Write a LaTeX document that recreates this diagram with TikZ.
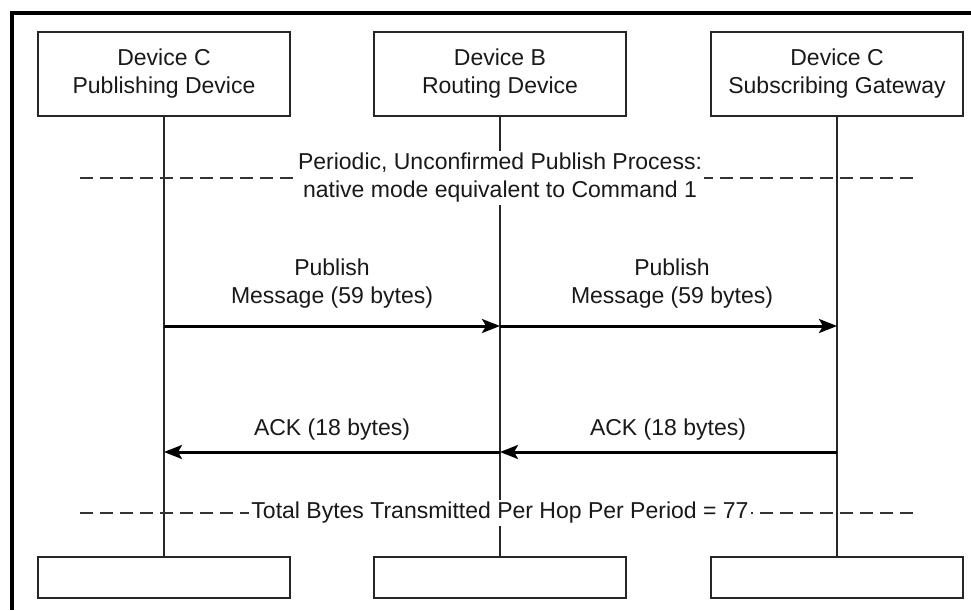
\documentclass[tikz,border=0pt]{standalone}
\usepackage{fontspec}
\setmainfont{Liberation Sans}
\usetikzlibrary{arrows.meta}
\begin{document}
\begin{tikzpicture}[x=1pt,y=-1pt,
  every node/.style={font=\fontsize{23}{28}\selectfont, text=black!90},
  devbox/.style={draw=black!85, line width=1.3pt, minimum width=252pt, minimum height=84pt, align=center, inner sep=0pt},
  endbox/.style={draw=black!85, line width=1.3pt, minimum width=252pt, minimum height=41pt, inner sep=0pt},
  life/.style={draw=black!85, line width=1.3pt},
  msg/.style={line width=3pt, -{Stealth[length=18pt,width=14pt,inset=4pt]}},
  sep/.style={draw=black!80, line width=1.2pt, dash pattern=on 13pt off 7pt},
  sepnote/.style={fill=white, align=center, inner sep=2pt},
  lbl/.style={align=center, inner sep=0pt}
]
\useasboundingbox (0,0) rectangle (971,610);
\fill[white] (0,0) rectangle (971,610);
% frame
\draw[line width=4pt] (12,610) -- (12,13) -- (971,13);

% top boxes
\node[devbox] (tA) at (164,74) {Device C\\Publishing Device};
\node[devbox] (tB) at (500,74) {Device B\\Routing Device};
\node[devbox] (tC) at (837,74) {Device C\\Subscribing Gateway};
% bottom boxes
\node[endbox] (bA) at (164,577.5) {};
\node[endbox] (bB) at (500,577.5) {};
\node[endbox] (bC) at (837,577.5) {};

% lifelines
\draw[life] (tA.south) -- (bA.north);
\draw[life] (tB.south) -- (bB.north);
\draw[life] (tC.south) -- (bC.north);

% separators
\coordinate (s1l) at (80,178);
\coordinate (s1r) at (920,178);
\draw[sep] (s1l) -- (s1r);
\node[sepnote] (n1) at (500,178) {Periodic, Unconfirmed Publish Process:\\native mode equivalent to Command 1};

\coordinate (s2l) at (80,513);
\coordinate (s2r) at (920,513);
\draw[sep] (s2l) -- (s2r);
\node[sepnote] (n2) at (500,513) {Total Bytes Transmitted Per Hop Per Period = 77};

% message points
\coordinate (pA) at (164,326);
\coordinate (pB) at (500,326);
\coordinate (pC) at (837,326);
\coordinate (aA) at (164,452);
\coordinate (aB) at (500,452);
\coordinate (aC) at (837,452);

\draw[msg] (pA) -- (pB);
\draw[msg] (pB) -- (pC);
\draw[msg] (aC) -- (aB);
\draw[msg] (aB) -- (aA);

\node[lbl] (l1) at (332,284) {Publish\\Message (59 bytes)};
\node[lbl] (l2) at (672,284) {Publish\\Message (59 bytes)};
\node[lbl] (l3) at (332,430) {ACK (18 bytes)};
\node[lbl] (l4) at (668,430) {ACK (18 bytes)};
\end{tikzpicture}
\end{document}
